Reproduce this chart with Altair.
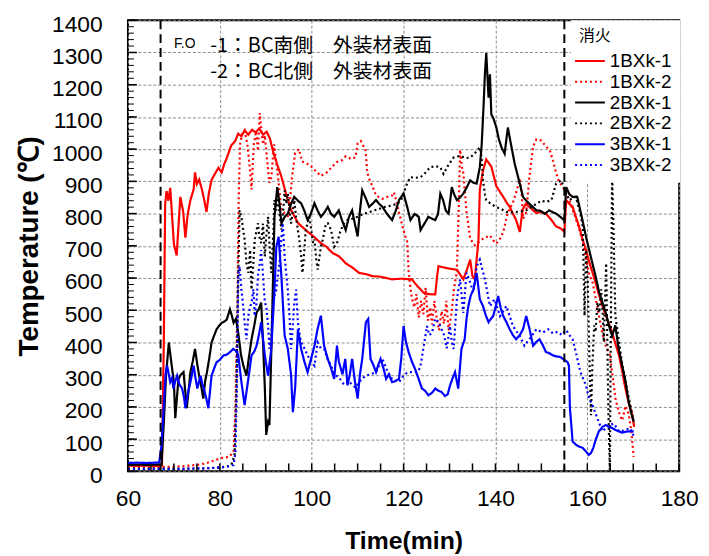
import altair as alt
import pandas as pd

# ---------------- data ----------------
series_names = ["1BXk-1", "1BXk-2", "2BXk-1", "2BXk-2", "3BXk-1", "3BXk-2"]
series_colors = ["#FF0000", "#FF0000", "#000000", "#000000", "#0000FF", "#0000FF"]
series_dashes = [[1, 0], [2, 3], [1, 0], [2, 3], [1, 0], [2, 3]]

t_1bxk1 = [60, 62, 64, 66, 67.4, 67.8, 68.1, 68.4, 68.8, 69.2, 70.0, 70.6, 71.4, 72.0, 72.5, 73.0, 73.6, 74.3,
           74.6, 75.0, 75.5, 76.1, 76.6, 77.1, 77.6, 78.2, 79.0, 79.7, 80.4, 81.0, 81.5, 82.5, 83.3, 84.0, 84.7,
           85.4, 86.2, 87.0, 87.8, 88.6, 89.4, 90.2, 90.9, 91.6, 92.5, 93.4, 94.4, 95.5, 96.3, 97.0, 98.0, 99.1,
           100.5, 102.0, 103.2, 104.5, 106.0, 107.4, 109.0, 110.3, 111.8, 113.2, 115.0, 117.5, 119.5, 121.8,
           123.0, 124.4, 125.5, 126.9, 127.3, 127.6, 129.0, 130.5, 131.6, 132.3, 133.0, 133.8, 134.5, 135.0,
           135.5, 135.9, 136.3, 136.6, 137.3, 138.0, 139.1, 140.2, 141.0, 141.7, 142.4, 143.1, 143.8, 144.5,
           145.3, 145.9, 146.6, 147.4, 148.2, 148.9, 150.0, 151.0, 152.2, 153.2, 154.2, 155.0, 155.4, 156.1,
           156.8, 157.5, 158.2, 159.0, 159.7, 160.7, 161.8, 162.5, 163.3, 164.3, 165.4, 166.2, 166.9, 167.6,
           168.3, 169.0, 169.8, 170.2]
v_1bxk1 = [18, 17, 18, 17, 18, 400, 830, 870, 840, 880, 705, 670, 852, 808, 725, 798, 842, 875,
           928, 892, 906, 875, 842, 805, 862, 905, 925, 942, 928, 955, 972, 1012, 1024, 1048, 1040,
           1058, 1045, 1060, 1052, 1064, 1045, 1054, 1033, 992, 952, 915, 862, 812, 790, 771, 758, 744,
           728, 708, 697, 678, 667, 646, 631, 616, 612, 606, 604, 596, 598, 596,
           575, 554, 550, 549, 606, 637, 632, 628, 626, 611, 596, 626, 657, 606,
           596, 657, 718, 875, 934, 968, 946, 885, 867, 852, 835, 821, 800, 780,
           743, 812, 830, 821, 810, 802, 805, 800, 780, 760, 754, 744, 842, 830,
           821, 790, 760, 718, 687, 636, 586, 550, 513, 474, 431, 392, 360, 311,
           257, 214, 175, 138]

t_1bxk2 = [60, 63, 66, 69, 72, 75, 77, 79, 80.5, 82, 83.0, 83.4, 83.8, 84.1, 84.4, 84.8, 85.4, 86.0, 86.5,
           86.9, 87.4, 87.9, 88.3, 88.7, 89.0, 89.4, 89.8, 90.3, 90.8, 91.2, 91.8, 92.5, 93.4, 94.2, 95.0,
           95.7, 96.4, 97.2, 97.9, 99.0, 99.9, 101.0, 102.0, 103.3, 104.5, 105.5, 106.5, 107.4, 108.5, 109.5,
           110.0, 110.7, 111.3, 111.7, 112.1, 112.6, 113.2, 114.0, 115.4, 116.5, 117.5, 117.9, 118.5, 119.0,
           119.7, 120.3, 120.8, 121.1, 121.5, 121.8, 122.3, 122.8, 123.3, 123.8, 124.3, 124.8, 125.3, 125.8,
           126.2, 126.7, 127.2, 127.7, 128.3, 128.8, 129.3, 129.8, 130.4, 131.0, 131.6, 132.0, 132.3, 132.7,
           133.0, 133.7, 134.5, 135.5, 136.4, 137.3, 138.0, 138.8, 139.5, 140.2, 141.0, 141.7, 142.7, 143.8,
           144.5, 145.3, 145.7, 146.0, 146.7, 147.4, 148.2, 148.9, 150.0, 151.0, 151.8, 152.5, 153.2, 153.9,
           154.6, 155.3, 156.0, 157.0, 158.2, 159.0, 159.7, 160.4, 161.1, 162.2, 163.3, 164.1, 164.9, 165.6,
           166.2, 166.9, 167.6, 168.3, 169.0, 169.6, 170.1]
v_1bxk2 = [12, 12, 13, 14, 16, 20, 25, 35, 42, 45, 60, 200, 505, 845, 1015, 1045, 1058, 1015, 945,
           875, 1015, 1055, 995, 1112, 1065, 1015, 1043, 965, 895, 912, 1015, 935, 812, 800, 790,
           912, 988, 1000, 962, 955, 946, 930, 917, 928, 946, 960, 965, 978, 970, 974,
           1018, 1025, 1008, 1000, 927, 905, 886, 856, 846, 852, 856, 866, 834, 804,
           764, 732, 713, 620, 570, 538, 509, 550, 478, 529, 488, 570, 468, 509,
           456, 529, 478, 438, 497, 458, 529, 438, 488, 570, 620, 814, 998, 945,
           927, 806, 722, 702, 712, 722, 727, 732, 717, 707, 722, 743, 804, 834,
           865, 907, 865, 784, 804, 915, 1008, 1030, 1027, 1008, 998, 965, 927, 897,
           885, 865, 846, 804, 754, 712, 661, 610, 590, 509, 425, 386, 361, 285,
           220, 183, 158, 203, 179, 122, 45]

t_2bxk1 = [60, 62, 64, 66, 67.3, 67.8, 68.3, 68.9, 69.5, 70.0, 70.3, 70.6, 71.0, 71.5, 72.1, 72.8, 73.2, 73.6,
           74.1, 74.6, 75.1, 75.5, 76.0, 76.4, 76.8, 77.2, 77.7, 78.2, 78.8, 79.3, 79.9, 80.4, 81.0, 81.5, 82.2,
           82.6, 83.0, 83.5, 84.0, 84.6, 85.1, 85.8, 86.3, 86.9, 87.5, 88.0, 88.5, 89.0, 89.4, 89.8, 90.1, 90.5,
           90.8, 91.2, 91.6, 91.9, 92.5, 93.0, 93.4, 94.1, 94.8, 95.5, 96.2, 97.0, 97.7, 98.4, 99.1, 99.8,
           100.6, 101.3, 102.0, 102.8, 103.5, 104.2, 104.9, 105.9, 106.6, 107.4, 108.1, 108.8, 109.4, 110.0,
           110.5, 111.0, 111.7, 112.5, 113.2, 114.0, 114.7, 115.4, 116.4, 117.5, 118.3, 119.0, 120.0, 120.8,
           121.5, 122.4, 123.3, 123.7, 124.5, 125.4, 126.2, 126.9, 127.5, 128.0, 128.6, 129.2, 129.8, 130.5,
           131.0, 131.6, 132.3, 133.0, 133.7, 134.5, 135.2, 135.9, 136.6, 137.0, 137.4, 137.7, 138.0, 138.3,
           138.5, 138.8, 139.1, 139.6, 140.2, 140.7, 141.3, 142.0, 142.7, 143.5, 144.2, 145.3, 146.0, 146.7,
           147.4, 148.2, 148.9, 149.8, 150.7, 151.7, 152.5, 153.2, 154.2, 155.0, 155.4, 156.1, 156.8, 157.8,
           158.8, 159.7, 160.4, 161.1, 161.8, 162.6, 163.3, 164.0, 164.7, 165.4, 166.1, 166.8, 167.6, 168.3,
           169.0, 169.6, 170.1]
v_2bxk1 = [20, 21, 20, 21, 22, 150, 300, 400, 331, 277, 165, 219, 287, 300, 308, 196, 250, 308,
           341, 380, 331, 297, 260, 226, 280, 308, 351, 400, 423, 441, 453, 461, 465, 471, 503,
           484, 461, 473, 431, 362, 329, 297, 351, 410, 453, 493, 504, 524, 402, 257, 113, 154,
           144, 370, 606, 790, 882, 830, 770, 789, 800, 830, 852, 840, 832, 809, 780, 799,
           832, 809, 790, 804, 821, 799, 790, 810, 779, 749, 789, 810, 768, 729,
           809, 872, 850, 821, 830, 842, 830, 821, 799, 780, 809, 842, 862, 820,
           780, 799, 790, 749, 768, 790, 784, 780, 799, 862, 842, 809, 800, 882,
           860, 842, 850, 862, 880, 903, 896, 893, 944, 1013, 1130, 1232, 1298, 1216,
           1160, 1232, 1108, 1094, 1067, 1033, 1006, 986, 1067, 1006, 954, 893, 852, 840,
           830, 820, 810, 809, 799, 810, 804, 800, 789, 779, 882, 860, 852, 852,
           789, 729, 687, 646, 606, 554, 524, 493, 453, 420, 453, 382, 328, 280,
           216, 178, 154]

t_2bxk2 = [60, 63, 66, 69, 72, 75, 78, 80, 81.5, 82.5, 83.2, 83.6, 84.0, 84.3, 84.7, 85.0, 85.4, 85.8, 86.2,
           86.6, 86.9, 87.3, 87.6, 88.0, 88.3, 88.6, 89.0, 89.4, 89.8, 90.1, 90.5, 90.8, 91.2, 91.6, 91.9,
           92.3, 92.6, 93.0, 93.4, 93.8, 94.1, 94.5, 94.8, 95.2, 95.5, 95.9, 96.2, 96.6, 97.0, 97.3, 97.7,
           98.0, 98.4, 98.7, 99.1, 99.5, 99.9, 100.3, 100.6, 101.0, 101.3, 101.7, 102.0, 102.4, 102.8, 103.1,
           103.5, 104.2, 104.9, 105.5, 106.3, 107.0, 107.8, 108.8, 110.0, 111.4, 112.5, 113.6, 114.6, 115.7,
           117.0, 118.6, 119.4, 120.0, 120.7, 121.5, 122.5, 123.7, 124.7, 125.8, 127.0, 128.0, 128.7, 129.8,
           130.9, 131.6, 132.4, 133.5, 134.5, 135.5, 136.6, 137.0, 137.3, 137.7, 138.0, 139.0, 140.2, 141.3,
           142.4, 143.5, 144.5, 145.6, 146.7, 147.8, 148.9, 150.0, 151.0, 152.2, 153.2, 154.3, 155.0, 156.0,
           157.5, 158.5, 159.0, 159.4, 159.7, 160.1, 160.4, 160.8, 161.1, 161.5, 161.8, 162.2, 162.6, 163.0,
           163.3, 163.6, 164.1, 164.6, 164.9, 165.2, 165.4, 165.8, 166.1, 166.9, 167.6, 168.3, 169.0, 169.6,
           170.1]
v_2bxk2 = [8, 8, 8, 8, 8, 9, 10, 12, 15, 20, 50, 250, 606, 810, 790, 758, 719, 646, 616,
           687, 564, 646, 719, 748, 770, 728, 708, 769, 667, 728, 790, 708, 616, 728, 842,
           810, 872, 799, 750, 810, 872, 830, 862, 810, 769, 810, 842, 789, 748, 719, 667,
           616, 687, 750, 769, 790, 748, 708, 719, 657, 626, 667, 697, 719, 748, 769,
           770, 750, 697, 708, 748, 769, 780, 784, 790, 800, 804, 810, 814, 820,
           824, 830, 840, 862, 891, 913, 911, 913, 926, 944, 947, 944, 923, 952,
           974, 977, 979, 972, 974, 987, 1006, 972, 903, 860, 842, 830, 820, 814,
           805, 804, 805, 807, 810, 820, 830, 840, 836, 842, 893, 903, 880, 842,
           852, 799, 759, 483, 687, 586, 380, 174, 328, 453, 433, 524, 493, 565,
           504, 402, 646, 174, 5, 586, 923, 687, 483, 402, 331, 280, 229, 189,
           158]

t_3bxk1 = [60, 62, 64, 66, 66.8, 67.3, 67.8, 68.2, 68.5, 68.9, 69.2, 69.6, 69.9, 70.3, 70.7, 71.2, 71.8, 72.2,
           72.5, 73.0, 73.6, 74.3, 74.7, 75.1, 75.5, 75.8, 76.2, 76.5, 77.0, 77.5, 78.2, 78.8, 79.3, 80.0, 80.8,
           81.5, 82.2, 82.9, 83.5, 84.0, 84.7, 85.4, 86.2, 86.9, 87.5, 88.0, 88.5, 89.0, 89.8, 90.5, 91.2, 91.9,
           92.3, 92.8, 93.4, 94.1, 94.8, 95.5, 95.9, 96.4, 97.0, 97.7, 98.4, 99.1, 99.9, 100.6, 101.3, 102.0,
           102.7, 103.5, 104.2, 104.9, 105.5, 105.9, 106.7, 107.3, 107.8, 108.3, 108.8, 109.4, 110.0, 110.5,
           111.0, 111.8, 112.3, 112.8, 113.4, 114.0, 114.5, 115.0, 115.6, 116.2, 116.8, 117.5, 118.2, 119.0,
           119.5, 120.0, 120.5, 121.1, 121.8, 122.5, 123.2, 124.0, 124.7, 125.4, 126.2, 126.9, 127.6, 128.3,
           129.0, 129.6, 130.1, 130.7, 131.2, 131.9, 132.6, 133.3, 133.7, 134.1, 134.6, 135.2, 135.9, 136.6,
           137.3, 137.9, 138.5, 139.0, 139.5, 140.1, 140.6, 141.2, 141.7, 142.4, 143.1, 143.8, 144.5, 145.3,
           146.0, 146.7, 147.4, 148.2, 148.9, 149.6, 150.3, 151.0, 151.7, 152.5, 153.2, 154.1, 155.0, 155.7,
           156.0, 156.2, 156.8, 157.5, 158.2, 159.0, 159.7, 160.3, 160.8, 161.3, 161.8, 162.5, 163.3, 164.0,
           164.7, 165.5, 166.2, 166.9, 167.6, 168.3, 169.0, 169.6, 170.1]
v_3bxk1 = [26, 27, 26, 27, 28, 80, 206, 301, 329, 301, 277, 290, 257, 280, 297, 270, 257, 230,
           196, 240, 277, 328, 290, 257, 280, 297, 270, 257, 230, 196, 297, 321, 339, 346, 360,
           362, 370, 380, 374, 362, 277, 206, 287, 360, 372, 390, 423, 463, 360, 297, 380, 564,
           697, 728, 606, 423, 380, 301, 184, 260, 441, 380, 341, 308, 351, 390, 443, 483,
           390, 349, 321, 287, 390, 341, 301, 349, 267, 301, 349, 280, 226, 301,
           349, 463, 473, 349, 331, 308, 331, 349, 321, 287, 301, 277, 280, 287,
           351, 451, 402, 370, 341, 318, 290, 257, 250, 236, 244, 257, 250, 246,
           234, 239, 266, 290, 308, 257, 380, 410, 473, 513, 545, 564, 616, 534,
           513, 484, 463, 473, 482, 514, 544, 504, 482, 463, 441, 423, 410, 423,
           441, 482, 443, 390, 402, 410, 392, 370, 367, 360, 357, 355, 346, 339,
           328, 199, 93, 83, 77, 73, 62, 51, 57, 73, 97, 124, 138, 144,
           138, 134, 128, 124, 120, 123, 124, 124, 124]

t_3bxk2 = [60, 63, 66, 69, 72, 75, 78, 80, 82, 83.0, 83.4, 83.7, 84.0, 84.3, 84.7, 85.0, 85.4, 85.8, 86.2,
           86.5, 86.9, 87.3, 87.6, 88.0, 88.3, 88.7, 89.0, 89.4, 89.8, 90.1, 90.5, 90.8, 91.2, 91.6, 91.9,
           92.3, 92.6, 93.0, 93.3, 93.7, 94.1, 94.5, 94.8, 95.2, 95.5, 95.9, 96.2, 96.6, 97.0, 97.4, 97.7,
           98.4, 99.1, 99.9, 100.6, 101.3, 102.0, 102.7, 103.4, 104.2, 105.0, 106.0, 107.0, 108.0, 109.5,
           110.5, 111.7, 112.8, 114.0, 115.4, 116.5, 117.5, 119.0, 120.2, 121.1, 122.5, 123.2, 123.7, 124.4,
           125.1, 125.6, 126.2, 126.9, 127.6, 128.2, 128.8, 129.4, 130.1, 130.5, 130.9, 131.6, 132.3, 133.0,
           133.7, 134.5, 135.2, 135.9, 136.6, 137.7, 138.8, 139.8, 141.0, 142.4, 143.8, 145.3, 146.3, 147.4,
           148.9, 150.3, 151.5, 152.5, 153.5, 154.5, 155.0, 155.4, 156.1, 156.8, 157.5, 158.5, 159.7, 160.4,
           161.1, 162.2, 163.3, 164.7, 165.8, 166.9, 168.3, 169.2, 169.8, 170.1]
v_3bxk2 = [8, 8, 8, 8, 8, 9, 10, 12, 15, 20, 60, 250, 606, 636, 564, 524, 461, 410, 482,
           504, 524, 565, 482, 524, 606, 646, 687, 606, 524, 513, 453, 380, 423, 513, 545,
           564, 606, 646, 708, 770, 667, 606, 564, 474, 380, 453, 524, 564, 461, 423, 400,
           382, 360, 341, 328, 400, 382, 380, 351, 328, 301, 290, 270, 280, 260,
           280, 297, 301, 308, 349, 310, 287, 277, 301, 308, 308, 310, 328, 390,
           451, 423, 431, 474, 463, 443, 423, 382, 451, 402, 380, 534, 596, 492,
           616, 586, 555, 636, 657, 596, 513, 534, 482, 513, 451, 420, 390, 410, 441,
           431, 441, 428, 433, 423, 433, 438, 423, 410, 370, 308, 267, 226, 206,
           164, 124, 144, 148, 124, 128, 134, 124, 108, 104]

event_times = [67.1, 155.0]

note_t = [70.0, 77.9, 77.9]
note_v = [1325, 1321, 1238]
note_text = ["F.O", "-1：BC南側　外装材表面", "-2：BC北側　外装材表面"]

x_ticks = [60, 80, 100, 120, 140, 160, 180]
y_ticks = list(range(0, 1401, 100))
x_minor = list(range(60, 181, 5))
y_minor = list(range(0, 1401, 20))

# ---------------- build tables ----------------
pairs = [(t_1bxk1, v_1bxk1), (t_1bxk2, v_1bxk2), (t_2bxk1, v_2bxk1),
         (t_2bxk2, v_2bxk2), (t_3bxk1, v_3bxk1), (t_3bxk2, v_3bxk2)]
rows = []
for name, (ts, vs) in zip(series_names, pairs):
    for t, v in zip(ts, vs):
        rows.append({"series": name, "time": t, "temp": v})
df = pd.DataFrame(rows)

xscale = alt.Scale(domain=[60, 180], nice=False, zero=False)
yscale = alt.Scale(domain=[0, 1400], nice=False, zero=False)

W, H = 556, 455

xaxis = alt.Axis(values=x_ticks, tickCount=len(x_ticks), format="d", ticks=False, domain=False,
                 labelOverlap=False,
                 grid=True, gridColor="#8c8c8c", gridDash=[3, 2], gridWidth=1,
                 labelFont="Liberation Sans", labelFontSize=23, labelColor="black",
                 labelPadding=16, labelFlush=False,
                 titleFont="Liberation Sans", titleFontSize=25, titleFontWeight="bold",
                 titleColor="black", titlePadding=19)
yaxis = alt.Axis(values=y_ticks, tickCount=len(y_ticks), format="d", ticks=False, domain=False,
                 labelOverlap=False,
                 grid=True, gridColor="#8c8c8c", gridDash=[3, 2], gridWidth=1,
                 labelFont="Liberation Sans", labelFontSize=23, labelColor="black",
                 labelPadding=26, labelOffset=4, labelFlush=False,
                 titleFont="Liberation Sans", titleFontSize=28, titleFontWeight="bold",
                 titleColor="black", titlePadding=8)
XT = "Time(min)"
YT = "Temperature (℃)"


def X(field):
    return alt.X(field, type="quantitative", scale=xscale, axis=xaxis, title=XT)


def Y(field):
    return alt.Y(field, type="quantitative", scale=yscale, axis=yaxis, title=YT)


legend = alt.Legend(
    title="消火", orient="none", legendX=447, legendY=0,
    titleFont="Noto Sans CJK JP", titleFontSize=16, titleFontWeight="normal", titleColor="black",
    titlePadding=6,
    labelFont="Liberation Sans", labelFontSize=19, labelColor="black", labelOffset=9,
    symbolType="M-1.5,0L1.5,0", symbolSize=400, symbolStrokeWidth=2,
    rowPadding=0, padding=8, fillColor="white",
)

lines = alt.Chart(df).mark_line(strokeWidth=2.2).encode(
    x=X("time"), y=Y("temp"),
    color=alt.Color("series:N", scale=alt.Scale(domain=series_names, range=series_colors), legend=legend),
    strokeDash=alt.StrokeDash("series:N", scale=alt.Scale(domain=series_names, range=series_dashes),
                              legend=legend),
    detail="series:N",
)

ev = alt.Chart(pd.DataFrame({"t": event_times})).mark_rule(
    color="black", strokeWidth=2, strokeDash=[9, 5]
).encode(x=X("t"))

notes_df = pd.DataFrame({"t": note_t, "v": note_v, "label": note_text})
notes_small = alt.Chart(notes_df.iloc[:1]).mark_text(
    align="left", baseline="middle", font="Liberation Sans", fontSize=14, color="black"
).encode(x=X("t"), y=Y("v"), text="label:N")
notes_big = alt.Chart(notes_df.iloc[1:]).mark_text(
    align="left", baseline="middle", font="Noto Sans CJK JP", fontSize=20, color="black"
).encode(x=X("t"), y=Y("v"), text="label:N")

ymin = alt.Chart(pd.DataFrame({"v": y_minor})).mark_rule(color="black", strokeWidth=1).encode(
    y=Y("v"), x=alt.value(0), x2=alt.value(6))
ymaj = alt.Chart(pd.DataFrame({"v": y_ticks})).mark_rule(color="black", strokeWidth=1.5).encode(
    y=Y("v"), x=alt.value(0), x2=alt.value(9))
xmin = alt.Chart(pd.DataFrame({"t": x_minor})).mark_rule(color="black", strokeWidth=1.5).encode(
    x=X("t"), y=alt.value(H), y2=alt.value(H - 8))

chart = alt.layer(lines, ev, ymin, ymaj, xmin, notes_small, notes_big).properties(
    width=W, height=H,
    padding={"left": 121, "top": 10, "right": 22, "bottom": 84},
    autosize=alt.AutoSizeParams(type="none"),
).configure_view(stroke="black", strokeWidth=2)

chart.save("out.html", embed_options={"renderer": "svg", "actions": False})
